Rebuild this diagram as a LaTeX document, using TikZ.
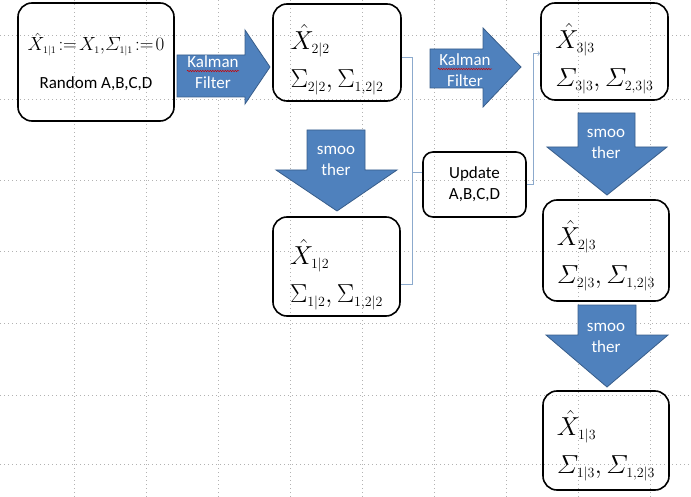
\RequirePackage{fix-cm}
\documentclass[tikz,border=0pt]{standalone}
\usepackage{amsmath}
\usepackage[no-math]{fontspec}
\setmainfont{Carlito}
\usetikzlibrary{decorations.pathmorphing}
\DeclareMathSizes{26}{26}{14}{10}
\DeclareMathSizes{19}{19}{10}{7}

\definecolor{arrowblue}{RGB}{79,129,189}
\definecolor{arrowedge}{RGB}{56,93,138}
\definecolor{linkblue}{RGB}{140,170,205}

\tikzset{
  box/.style={draw=black, line width=1.6pt, rounded corners=14pt},
  boxtext/.style={align=left, font=\fontsize{26}{30}\selectfont},
  blockarrow/.style={fill=arrowblue, draw=arrowedge, line width=0.8pt},
  arrowtext/.style={text=white, font=\fontsize{17}{21}\selectfont, align=center},
  link/.style={draw=linkblue, line width=0.8pt},
  griddot/.style={gray!60, line width=1pt, dash pattern=on 1pt off 3pt},
  squiggle/.style={red!80!black, line width=0.5pt, decorate, decoration={snake, amplitude=0.7pt, segment length=2.5pt}}
}

\begin{document}
\begin{tikzpicture}[x=1pt, y=-1pt]
  \useasboundingbox (0,0) rectangle (691,497);

  % Dotted drawing grid
  \foreach \x in {74,146,...,650} \draw[griddot] (\x,0) -- (\x,497);
  \foreach \y in {36,100,181,252,323,395,464} \draw[griddot] (0,\y) -- (691,\y);

  % Block arrows (Kalman filter to the right, smoother downwards)
  \draw[blockarrow] (177,55) -- (245,55) -- (245,30) -- (270,67) -- (245,104) -- (245,97) -- (177,97) -- cycle;
  \draw[blockarrow] (430,49) -- (483,49) -- (483,28) -- (521,67) -- (483,107) -- (483,88) -- (430,88) -- cycle;
  \foreach \l/\r/\t/\h/\hl/\hr/\m/\tip in {307/365/130/170/276/397/337/211, 578/635/113/147/547/667/607/195, 578/636/305/335/546/668/607/387}
  {
    \draw[blockarrow] (\l,\t) -- (\r,\t) -- (\r,\h) -- (\hr,\h) -- (\m,\tip) -- (\hl,\h) -- (\l,\h) -- cycle;
  }

  % Labels on the block arrows
  \node[arrowtext] (kf1) at (213,72) {Kalman\\Filter};
  \node[arrowtext] (kf2) at (465,70) {Kalman\\Filter};
  \node[arrowtext] (sm1) at (336,161) {smoo\\ther};
  \node[arrowtext] (sm2) at (606,144) {smoo\\ther};
  \node[arrowtext] (sm3) at (606,338) {smoo\\ther};
  \draw[squiggle] ([xshift=-26pt,yshift=1pt]kf1.center) -- ++(52,0);
  \draw[squiggle] ([xshift=-27pt,yshift=1pt]kf2.center) -- ++(54,0);

  % Starting box
  \node[box, minimum width=156pt, minimum height=118pt, align=center, font=\fontsize{17}{24}\selectfont] (b11) at (96,62)
    {\fontsize{19}{24}\selectfont$\hat{X}_{1|1}\!:=\!X_1{,}\varSigma_{1|1}\!:=\!0$\\[14pt]Random A,B,C,D};

  % Estimate boxes
  \node[box, minimum width=128pt, minimum height=97pt] (b22) at (337,52.5) {};
  \node[box, minimum width=127pt, minimum height=97pt] (b33) at (604.5,51.5) {};
  \node[box, minimum width=127pt, minimum height=99pt] (b12) at (336.5,266.5) {};
  \node[box, minimum width=126pt, minimum height=101pt] (b23) at (606,250.5) {};
  \node[box, minimum width=126pt, minimum height=99pt] (b13) at (606,440.5) {};
  \node[boxtext] (x22) at ([yshift=-7pt]b22.center) {$\hat{X}_{2|2}$\\[8pt]$\Sigma_{2|2},\Sigma_{1,2|2}$};
  \node[boxtext] (x33) at ([yshift=-7pt]b33.center) {$\hat{X}_{3|3}$\\[8pt]$\varSigma_{3|3},\varSigma_{2,3|3}$};
  \node[boxtext] (x12) at ([yshift=-8pt]b12.center) {$\hat{X}_{1|2}$\\[8pt]$\Sigma_{1|2},\Sigma_{1,2|2}$};
  \node[boxtext] (x23) at ([yshift=-5pt]b23.center) {$\hat{X}_{2|3}$\\[8pt]$\varSigma_{2|3},\varSigma_{1,2|3}$};
  \node[boxtext] (x13) at ([yshift=-5pt]b13.center) {$\hat{X}_{1|3}$\\[8pt]$\varSigma_{1|3},\varSigma_{1,2|3}$};

  % Update step
  \node[box, rounded corners=10pt, minimum width=103pt, minimum height=65pt, align=center,
        font=\fontsize{17}{21}\selectfont] (upd) at (474.5,184.5) {Update\\A,B,C,D};

  % Thin connectors to and from the update step
  \draw[link] ([yshift=-5pt]b22.east) -- ++(11,0) |- ([yshift=12pt]upd.west);
  \draw[link] ([yshift=-18pt]b12.east) -- ++(12,0) |- ([yshift=12pt]upd.west);
  \draw[link, ->] (upd.east) -- ++(7,0) |- ([yshift=-2pt]b33.west);
\end{tikzpicture}
\end{document}
